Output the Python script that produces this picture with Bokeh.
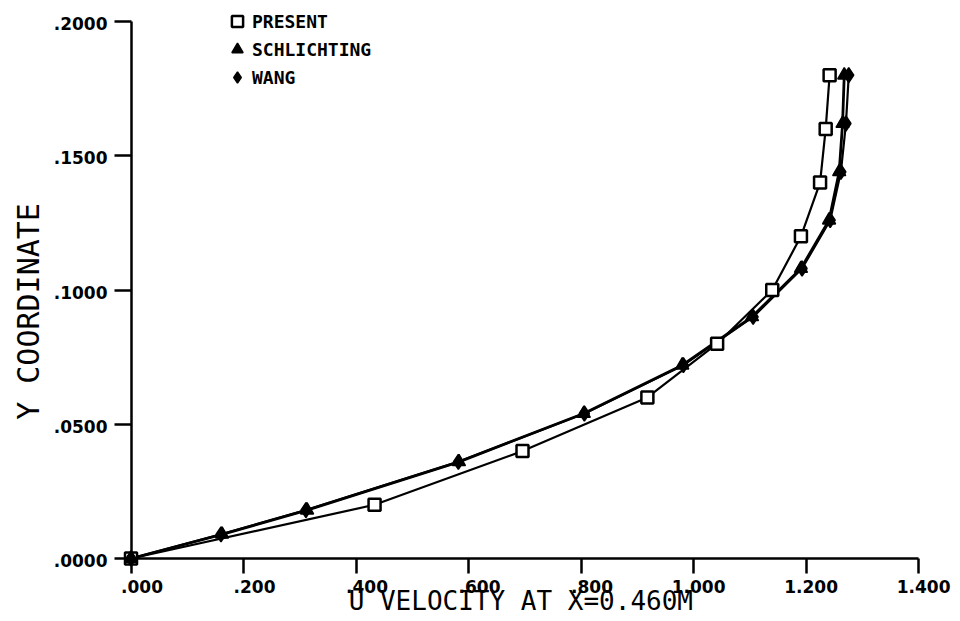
import math
from bokeh.plotting import figure
from bokeh.models import (Range1d, FixedTicker, CustomJSTickFormatter, Label,
                          Legend, LegendItem)
from bokeh.embed import file_html
from bokeh.resources import INLINE

# ---- data ----
present_u = [0.0, 0.433, 0.696, 0.918, 1.042, 1.140, 1.191, 1.225, 1.235, 1.242]
present_y = [0.0, 0.020, 0.040, 0.060, 0.080, 0.100, 0.120, 0.140, 0.160, 0.180]

schlichting_u = [0.0, 0.162, 0.313, 0.583, 0.805, 0.980, 1.104, 1.191, 1.241, 1.259, 1.265, 1.268]
schlichting_y = [0.0, 0.009, 0.018, 0.036, 0.054, 0.072, 0.090, 0.108, 0.126, 0.144, 0.162, 0.180]

wang_u = [0.0, 0.160, 0.311, 0.582, 0.806, 0.982, 1.106, 1.193, 1.243, 1.262, 1.271, 1.276]
wang_y = [0.0, 0.009, 0.018, 0.036, 0.054, 0.072, 0.090, 0.108, 0.126, 0.144, 0.162, 0.180]

x_ticks = [0.0, 0.2, 0.4, 0.6, 0.8, 1.0, 1.2, 1.4]
x_tick_labels = [".000", ".200", ".400", ".600", ".800", "1.000", "1.200", "1.400"]
y_ticks = [0.0, 0.05, 0.10, 0.15, 0.20]
y_tick_labels = [".0000", ".0500", ".1000", ".1500", ".2000"]

x_title = "U VELOCITY AT X=0.460M"
y_title = "Y COORDINATE"
series_names = ["PRESENT", "SCHLICHTING", "WANG"]

BOLD_FONT = "DejaVu Sans"
MONO = "DejaVu Sans Mono"

W, H = 960, 621
# pixel scale of the axes (origin at 130.5, 558; 1.4 at 918; 0.2 at 21)
SX = 562.5
SY = 2685.0
x_range = Range1d(-130.5 / SX, -130.5 / SX + W / SX)
y_range = Range1d(-(H - 558) / SY, -(H - 558) / SY + H / SY)

p = figure(width=W, height=H, x_range=x_range, y_range=y_range,
           x_axis_location="above", y_axis_location="right",
           output_backend="svg", toolbar_location=None, min_border=0)
p.min_border_left = 0
p.min_border_right = 0
p.min_border_top = 0
p.min_border_bottom = 0
p.xgrid.visible = False
p.ygrid.visible = False
p.outline_line_color = None
p.background_fill_color = "white"
p.border_fill_color = "white"

blank = CustomJSTickFormatter(code='return "";')

# x axis: drawn at y = 0, ticks pointing down
xa = p.xaxis[0]
xa.ticker = FixedTicker(ticks=x_ticks)
xa.bounds = (0, 1.4)
xa.fixed_location = 0
xa.formatter = blank
xa.major_label_standoff = 0
xa.major_tick_out = 0
xa.major_tick_in = 15
xa.minor_tick_line_color = None
xa.axis_line_width = 2.5
xa.major_tick_line_width = 2.5
xa.axis_line_color = "black"
xa.major_tick_line_color = "black"

# y axis: drawn at x = 0, ticks pointing left
ya = p.yaxis[0]
ya.ticker = FixedTicker(ticks=y_ticks)
ya.bounds = (0, 0.2)
ya.fixed_location = 0
ya.formatter = blank
ya.major_label_standoff = 0
ya.major_tick_out = 0
ya.major_tick_in = 17
ya.minor_tick_line_color = None
ya.axis_line_width = 2.5
ya.major_tick_line_width = 2.5
ya.axis_line_color = "black"
ya.major_tick_line_color = "black"

# lines
p.line(present_u, present_y, line_color="black", line_width=2.2)
p.line(schlichting_u, schlichting_y, line_color="black", line_width=2.8)
p.line(wang_u, wang_y, line_color="black", line_width=2.2)

# markers
r_p = p.scatter(present_u, present_y, marker="square", size=12,
                fill_color="white", line_color="black", line_width=2.5)
r_s = p.scatter(schlichting_u, schlichting_y, marker="triangle", size=13,
                fill_color="black", line_color="black", line_width=1.5)
r_w = p.scatter(wang_u, wang_y, marker="diamond", size=15,
                fill_color="black", line_color="black", line_width=1.5)

legend = Legend(items=[LegendItem(label=series_names[0], renderers=[r_p]),
                       LegendItem(label=series_names[1], renderers=[r_s]),
                       LegendItem(label=series_names[2], renderers=[r_w])],
                location=(222, 530), orientation="vertical",
                border_line_color=None, background_fill_alpha=0,
                padding=0, margin=0, spacing=0,
                glyph_width=30, glyph_height=28, label_height=28,
                label_standoff=0,
                label_text_font=MONO, label_text_font_style="bold",
                label_text_font_size="18px", label_text_color="black")
p.add_layout(legend)

# x tick labels
for t, s in zip(x_ticks, x_tick_labels):
    p.add_layout(Label(x=t, y=0, text=s, x_offset=32, y_offset=-27.5,
                       text_align="right", text_baseline="middle",
                       text_font=BOLD_FONT, text_font_style="bold",
                       text_font_size="17px", text_color="black"))

# y tick labels
for t, s in zip(y_ticks, y_tick_labels):
    p.add_layout(Label(x=0, y=t, text=s, x_offset=-23.5, y_offset=-2,
                       text_align="right", text_baseline="middle",
                       text_font=BOLD_FONT, text_font_style="bold",
                       text_font_size="17px", text_color="black"))

# axis titles
p.add_layout(Label(x=0.693, y=0, text=x_title, y_offset=-42,
                   text_align="center", text_baseline="middle",
                   text_font=MONO, text_font_size="26px", text_color="black"))
p.add_layout(Label(x=0, y=0.092, text=y_title, x_offset=-102.5, angle=math.pi / 2,
                   text_align="center", text_baseline="middle",
                   text_font=MONO, text_font_size="30px", text_color="black"))

open("out.html", "w").write(file_html(p, INLINE))
